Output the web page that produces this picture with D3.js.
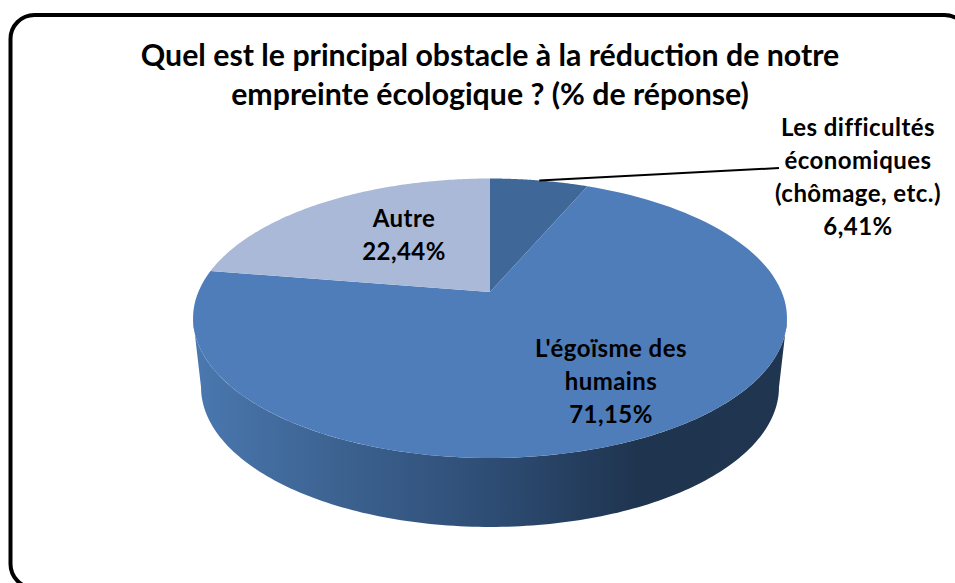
<!DOCTYPE html>
<html>
<head>
<meta charset="utf-8">
<script src="https://cdn.jsdelivr.net/npm/d3@7/dist/d3.min.js"></script>
<style>
html,body{margin:0;padding:0;background:#fff;overflow:hidden}
svg{display:block}
text{font-family:Lato,"Open Sans",sans-serif;font-weight:700;fill:#000;text-anchor:middle}
</style>
</head>
<body>
<svg id="chart" width="955" height="583"></svg>
<script>
const titleLines = ["Quel est le principal obstacle à la réduction de notre", "empreinte écologique ? (% de réponse)"];
const categories = ["Les difficultés économiques (chômage, etc.)", "L'égoïsme des humains", "Autre"];
const values = [6.41, 71.15, 22.44];
const valueLabels = ["6,41%", "71,15%", "22,44%"];
const labelLines = [["Les difficultés", "économiques", "(chômage, etc.)"], ["L'égoïsme des", "humains"], ["Autre"]];
const colors = ["#3f6899", "#4e7dba", "#aab9d7"];
const labelAnchors = [[858, 136], [611, 357], [404, 227]];

const W = 955, H = 583;
const svg = d3.select("#chart");

// rounded frame
svg.append("rect").attr("x", 10.5).attr("y", 15).attr("width", 958).attr("height", 573)
  .attr("rx", 24).attr("ry", 24).attr("fill", "#fff").attr("stroke", "#000").attr("stroke-width", 4);

// perspective projection of the pie disc
const cx = 490, cy = 292, rx = 291.7, ry = 134.8, k = 0.1878;
const project = (a, sx = 1, dy = 0) => {
  const u = Math.sin(a), v = Math.cos(a), d = 1 + k * v;
  return [cx + sx * rx * u / d, cy + dy - ry * v / d];
};
const pie = d3.pie().value(d => d).sort(null);
const arcs = pie(values);
const line = d3.line();
const samples = (a0, a1, n, sx, dy) => d3.range(n + 1).map(i => project(a0 + (a1 - a0) * i / n, sx, dy));

// gradient for the pie wall
const grad = svg.append("defs").append("linearGradient").attr("id", "wall")
  .attr("gradientUnits", "userSpaceOnUse").attr("x1", 192).attr("x2", 786).attr("y1", 0).attr("y2", 0);
[[0, "#4a78b0"], [0.25, "#3c6290"], [0.5, "#2e4d75"], [0.75, "#1f344f"], [1, "#1f3550"]]
  .forEach(([o, c]) => grad.append("stop").attr("offset", o).attr("stop-color", c));

// wall: visible lower half of the rim
const tilt = Math.acos(-k); // rim tangent angle
const bottomScale = 0.973, depth = 69;
const rimTop = samples(tilt, 2 * Math.PI - tilt, 160, 1, 0);
const rimBottom = samples(2 * Math.PI - tilt, tilt, 160, bottomScale, depth);
svg.append("path").attr("d", line(rimTop.concat(rimBottom)) + "Z").attr("fill", "url(#wall)");

// top faces
svg.append("g").selectAll("path").data(arcs).join("path")
  .attr("d", d => line([[cx, cy]].concat(samples(d.startAngle, d.endAngle, 120, 1, 0))) + "Z")
  .attr("fill", (d, i) => colors[i]);

// leader line
const mid = (arcs[0].startAngle + arcs[0].endAngle) / 2;
const lp = project(mid);
svg.append("line").attr("x1", lp[0]).attr("y1", lp[1]).attr("x2", 779).attr("y2", 168)
  .attr("stroke", "#000").attr("stroke-width", 2);

// title
svg.append("g").selectAll("text").data(titleLines).join("text")
  .attr("x", 490).attr("y", (d, i) => 66 + i * 39).attr("font-size", 30.3).text(d => d);

// data labels
const lh = 33;
arcs.forEach((d, i) => {
  const g = svg.append("g");
  labelLines[i].concat([valueLabels[i]]).forEach((t, j) => {
    g.append("text").attr("x", labelAnchors[i][0]).attr("y", labelAnchors[i][1] + j * lh)
      .attr("font-size", 24).attr("letter-spacing", 0.45).text(t);
  });
});
</script>
</body>
</html>
